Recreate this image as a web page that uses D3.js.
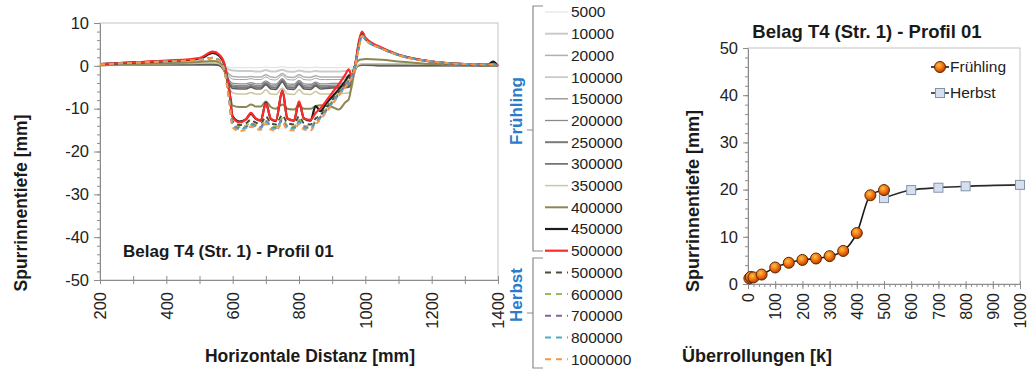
<!DOCTYPE html>
<html>
<head>
<meta charset="utf-8">
<script src="https://cdn.jsdelivr.net/npm/d3@7"></script>
<style>
  body { margin: 0; background: #fff; }
  svg { font-family: "Liberation Sans", Arial, sans-serif; }
  .axis path, .axis line { stroke: #8c8c8c; }
  .axis text { fill: #222; font-size: 16px; }
</style>
</head>
<body>
<svg id="chart" width="1029" height="374"></svg>
<script>
// --- Querprofil (linkes Diagramm) ---
const distanz = [200, 300, 400, 500, 540, 560, 575, 590, 600, 620, 640, 655, 670, 685, 700, 715, 730, 750, 765, 785, 800, 815, 835, 850, 865, 880, 900, 920, 940, 950, 960, 970, 980, 990, 1000, 1050, 1100, 1200, 1300, 1370, 1385, 1400];

const f5000 = [0.2,0.2,0.2,0.2,0.2,0.1,-0.1,-0.3,-0.4,-0.4, -0.4,-0.4,-0.4,-0.4,-0.3,-0.4,-0.4,-0.2,-0.4,-0.4, -0.3,-0.4,-0.4,-0.3,-0.4,-0.4,-0.4,-0.4,-0.4,-0.4, -0.3,-0.1,0.1,0.1,0.1,0.1,0.1,0.1,0.0,0.0,0.0,0.0];
const f10000 = [0.2,0.3,0.3,0.3,0.3,0.1,-0.3,-0.9,-1.1,-1.2, -1.2,-1.2,-1.3,-1.3,-1.0,-1.3,-1.3,-0.9,-1.3,-1.4, -1.1,-1.3,-1.4,-1.2,-1.3,-1.3,-1.3,-1.3,-1.2,-1.2, -1.0,-0.3,0.1,0.2,0.2,0.1,0.1,0.1,0.1,0.0,0.0,0.0];
const f20000 = [0.2,0.3,0.3,0.3,0.3,0.1,-0.6,-2.0,-2.5,-2.6, -2.6,-2.5,-2.6,-2.6,-2.1,-2.6,-2.7,-1.8,-2.6,-2.7, -2.1,-2.6,-2.7,-2.3,-2.6,-2.6,-2.6,-2.6,-2.6,-2.5, -2.0,-0.4,0.1,0.2,0.2,0.1,0.1,0.1,0.1,0.0,0.0,0.0];
const f100000 = [0.2,0.3,0.3,0.3,0.3,0.1,-0.8,-2.6,-3.1,-3.2, -3.2,-3.0,-3.2,-3.2,-2.6,-3.2,-3.3,-2.2,-3.2,-3.3, -2.6,-3.2,-3.3,-2.9,-3.2,-3.2,-3.2,-3.2,-3.1,-3.1, -2.4,-0.5,0.1,0.2,0.2,0.1,0.1,0.1,0.1,0.0,0.0,0.0];
const f150000 = [0.2,0.3,0.3,0.3,0.3,0.1,-1.0,-3.4,-4.1,-4.2, -4.2,-3.9,-4.2,-4.2,-3.5,-4.2,-4.3,-3.0,-4.2,-4.3, -3.4,-4.2,-4.3,-3.8,-4.2,-4.2,-4.1,-4.1,-4.0,-4.0, -3.0,-0.6,0.1,0.2,0.2,0.1,0.1,0.1,0.1,0.0,0.0,0.0];
const f200000 = [0.2,0.3,0.3,0.3,0.3,0.1,-1.1,-3.8,-4.5,-4.6, -4.6,-4.3,-4.6,-4.6,-3.8,-4.6,-4.7,-3.2,-4.6,-4.7, -3.7,-4.6,-4.7,-4.1,-4.6,-4.6,-4.5,-4.5,-4.4,-4.3, -3.3,-0.7,0.1,0.2,0.2,0.1,0.1,0.1,0.1,0.0,0.0,0.0];
const f250000 = [0.2,0.3,0.3,0.3,0.3,0.1,-1.2,-4.1,-4.9,-5.0, -5.0,-4.7,-5.0,-5.0,-4.1,-5.0,-5.1,-3.5,-5.0,-5.1, -4.0,-5.0,-5.1,-4.4,-5.0,-5.0,-4.9,-4.9,-4.8,-4.7, -3.5,-0.8,0.1,0.2,0.2,0.1,0.1,0.1,0.1,0.0,0.0,0.0];
const f300000 = [0.2,0.3,0.3,0.3,0.3,0.1,-1.3,-4.4,-5.3,-5.4, -5.4,-5.0,-5.4,-5.4,-4.4,-5.4,-5.5,-3.8,-5.4,-5.5, -4.3,-5.4,-5.5,-4.7,-5.4,-5.3,-5.2,-5.2,-5.1,-5.0, -3.8,-0.9,0.1,0.2,0.2,0.1,0.1,0.1,0.1,0.0,0.0,0.0];
const f350000 = [0.1,0.3,0.5,0.6,0.7,0.5,-1.2,-5.0,-6.3,-6.6, -6.6,-6.2,-6.6,-6.6,-5.6,-6.6,-6.7,-5.2,-6.6,-6.7, -5.6,-6.6,-6.7,-6.0,-6.6,-6.6,-6.5,-6.5,-6.4,-6.3, -5.0,-0.8,0.3,0.5,0.5,0.5,0.5,0.4,0.2,0.1,0.1,0.0];
const f400000 = [0.1,0.4,0.6,0.9,1.1,0.8,-0.8,-6.0,-9.3,-9.6, -9.6,-9.0,-9.5,-9.5,-8.3,-9.6,-10.0,-9.0,-10.0,-10.2, -9.4,-10.0,-10.0,-9.4,-9.2,-9.3,-9.6,-10.2,-8.5,-7.8, -4.0,0.2,1.3,1.5,1.6,1.4,1.0,0.4,0.2,0.1,0.1,0.0];
const f450000 = [0.4,0.8,1.1,1.6,3.0,2.3,0.3,-6.0,-11.8,-13.0, -12.5,-11.2,-12.4,-12.8,-8.6,-12.4,-12.9,-5.8,-12.3,-12.8, -8.5,-12.3,-12.8,-9.4,-10.6,-9.0,-7.2,-5.5,-3.5,-2.3, -2.0,0.5,5.0,7.8,6.3,4.1,2.6,1.0,0.4,0.3,1.0,0.0];
const f500000 = [0.4,0.8,1.2,1.8,3.3,2.6,0.5,-6.0,-12.0,-13.2, -12.5,-11.0,-12.3,-12.7,-8.8,-12.3,-12.8,-5.7,-12.3,-12.7, -8.3,-12.3,-12.6,-11.0,-9.9,-8.4,-6.3,-4.3,-2.0,-0.8, -2.8,0.5,5.5,8.0,6.6,4.2,2.6,1.0,0.4,0.3,0.4,0.1];

const h500000 = [0.3,0.7,1.0,1.4,1.9,1.3,-0.8,-7.5,-13.0,-13.8, -13.4,-12.6,-13.3,-13.5,-11.8,-13.4,-13.7,-11.5,-13.4,-13.7, -11.8,-13.4,-13.7,-12.3,-11.5,-10.0,-8.0,-6.0,-4.0,-3.0, -2.0,0.5,4.5,7.3,6.2,4.0,2.5,1.0,0.4,0.3,0.3,0.1];
const h600000 = [0.3,0.7,1.0,1.4,1.8,1.2,-0.9,-7.8,-13.5,-14.3, -14.0,-13.3,-13.8,-14.0,-12.6,-14.0,-14.2,-12.3,-14.0,-14.2, -12.6,-14.0,-14.2,-12.8,-11.8,-10.3,-8.3,-6.3,-4.3,-3.2, -2.2,0.3,4.3,7.2,6.2,4.0,2.5,1.0,0.4,0.3,0.3,0.1];
const h700000 = [0.3,0.7,1.0,1.4,1.8,1.2,-1.0,-8.0,-13.8,-14.6, -14.3,-13.6,-14.1,-14.3,-12.9,-14.3,-14.5,-12.7,-14.3,-14.5, -13.0,-14.3,-14.5,-13.1,-12.0,-10.6,-8.6,-6.6,-4.6,-3.5, -2.4,0.2,4.2,7.1,6.2,4.0,2.5,1.0,0.4,0.3,0.3,0.1];
const h800000 = [0.3,0.7,1.0,1.4,1.8,1.2,-1.0,-8.2,-14.0,-14.8, -14.5,-13.8,-14.3,-14.5,-13.1,-14.5,-14.7,-12.9,-14.5,-14.7, -13.2,-14.5,-14.7,-13.3,-12.2,-10.8,-8.8,-6.8,-4.8,-3.7, -2.5,0.2,4.1,7.0,6.1,4.0,2.5,1.0,0.4,0.3,0.3,0.1];
const h1000000 = [0.3,0.7,1.0,1.4,1.8,1.2,-1.1,-8.5,-14.4,-15.2, -14.9,-14.2,-14.7,-14.9,-13.5,-14.9,-15.1,-13.4,-14.9,-15.1, -13.6,-14.9,-15.1,-13.7,-12.5,-11.0,-9.0,-7.0,-5.0,-3.9, -2.6,0.1,4.0,7.0,6.1,4.0,2.5,1.0,0.4,0.3,0.3,0.1];

const fruehlingLabels = ["5000","10000","20000","100000","150000","200000","250000","300000","350000","400000","450000","500000"];
const herbstLabels = ["500000","600000","700000","800000","1000000"];

// --- Spurrinnentiefe vs. Überrollungen (rechtes Diagramm) ---
const ueberrFr = [5, 10, 20, 50, 100, 150, 200, 250, 300, 350, 400, 450, 500];
const tiefeFr = [1.2, 1.5, 1.4, 2.0, 3.5, 4.5, 5.1, 5.4, 5.9, 7.0, 10.8, 18.8, 19.9];
const ueberrHe = [500, 600, 700, 800, 1000];
const tiefeHe = [18.2, 19.9, 20.4, 20.7, 21.0];

const titel = "Belag T4 (Str. 1) - Profil 01";

// styles
const frStyle = [
  {c: "#e4e4e4", w: 1.2}, {c: "#cbcbcb", w: 2}, {c: "#b0b0b0", w: 1.5}, {c: "#a2a2a2", w: 1},
  {c: "#8e8e8e", w: 1.3}, {c: "#8a8a8a", w: 1.3}, {c: "#7a7a7a", w: 2}, {c: "#5c5c5c", w: 1.5},
  {c: "#cbc7a2", w: 1.5}, {c: "#8d8752", w: 2}, {c: "#1c1c1c", w: 2.2}, {c: "#ff2a2a", w: 2.2}
];
const heStyle = [
  {c: "#4d4d3a"}, {c: "#9bbb59"}, {c: "#8064a2"}, {c: "#4bacc6"}, {c: "#f79646"}
];

const frSeries = [f5000, f10000, f20000, f100000, f150000, f200000, f250000, f300000, f350000, f400000, f450000, f500000];
const heSeries = [h500000, h600000, h700000, h800000, h1000000];

const svg = d3.select("#chart");
svg.append("rect").attr("width", 1029).attr("height", 374).attr("fill", "#fff");

const defs = svg.append("defs");
const grad = defs.append("radialGradient").attr("id", "orb").attr("cx", "40%").attr("cy", "35%").attr("r", "65%");
grad.append("stop").attr("offset", "0%").attr("stop-color", "#ffc04a");
grad.append("stop").attr("offset", "55%").attr("stop-color", "#f07410");
grad.append("stop").attr("offset", "100%").attr("stop-color", "#b83c00");

// ================= left chart =================
const L = {left: 100, right: 498, top: 23, bottom: 280};
const xL = d3.scaleLinear().domain([200, 1400]).range([L.left, L.right]);
const yL = d3.scaleLinear().domain([-50, 10]).range([L.bottom, L.top]);

svg.append("rect")
  .attr("x", L.left).attr("y", L.top)
  .attr("width", L.right - L.left).attr("height", L.bottom - L.top)
  .attr("fill", "none").attr("stroke", "#c4c4c4");

// minor y ticks
svg.append("g").attr("class", "axis")
  .attr("transform", `translate(${L.left},0)`)
  .call(d3.axisLeft(yL).tickValues(d3.range(-50, 10.1, 2)).tickSize(3).tickFormat(""))
  .call(g => g.select(".domain").remove());

svg.append("g").attr("class", "axis")
  .attr("transform", `translate(${L.left},0)`)
  .call(d3.axisLeft(yL).tickValues(d3.range(-50, 10.1, 10)).tickSize(6).tickSizeOuter(0).tickPadding(5).tickFormat(d => String(d)))
  .call(g => g.selectAll("text").style("font-size", "16.5px"));

svg.append("g").attr("class", "axis")
  .attr("transform", `translate(0,${L.bottom})`)
  .call(d3.axisBottom(xL).tickValues(d3.range(200, 1401, 100)).tickSizeOuter(0)
    .tickFormat(d => d % 200 === 0 ? String(d) : ""))
  .call(g => g.selectAll(".tick line").attr("y1", -4).attr("y2", 4))
  .call(g => g.selectAll("text")
    .attr("transform", "rotate(-90)")
    .attr("text-anchor", "end")
    .attr("x", -12).attr("y", 0).attr("dy", "0.35em")
    .style("font-size", "16.5px"));

const lineL = d3.line()
  .x((d, i) => xL(distanz[i]))
  .y(d => yL(d))
  .curve(d3.curveMonotoneX);

const plotL = svg.append("g");
frSeries.forEach((s, k) => {
  plotL.append("path")
    .datum(s)
    .attr("fill", "none")
    .attr("stroke", frStyle[k].c)
    .attr("stroke-width", frStyle[k].w)
    .attr("stroke-linejoin", "round")
    .attr("d", lineL);
});
heSeries.forEach((s, k) => {
  plotL.append("path")
    .datum(s)
    .attr("fill", "none")
    .attr("stroke", heStyle[k].c)
    .attr("stroke-width", 2)
    .attr("stroke-dasharray", "5,4")
    .attr("d", lineL);
});

svg.append("text")
  .attr("x", 123).attr("y", 257)
  .attr("font-size", "17px").attr("font-weight", "bold").attr("fill", "#1a1a1a")
  .text(titel);

svg.append("text")
  .attr("transform", "translate(21,203) rotate(-90)")
  .attr("text-anchor", "middle").attr("dy", "0.35em")
  .attr("font-size", "17.5px").attr("font-weight", "bold").attr("fill", "#1a1a1a")
  .text("Spurrinnentiefe [mm]");

svg.append("text")
  .attr("x", 310).attr("y", 362)
  .attr("text-anchor", "middle")
  .attr("font-size", "17.5px").attr("font-weight", "bold").attr("fill", "#1a1a1a")
  .text("Horizontale Distanz [mm]");

// ================= legend (middle) =================
const rowY = i => 12 + i * 21.7;
const leg = svg.append("g");
const allLabels = fruehlingLabels.concat(herbstLabels);
allLabels.forEach((lab, i) => {
  const isHe = i >= fruehlingLabels.length;
  const st = isHe ? heStyle[i - fruehlingLabels.length] : frStyle[i];
  leg.append("line")
    .attr("x1", 545).attr("x2", 568).attr("y1", rowY(i)).attr("y2", rowY(i))
    .attr("stroke", st.c)
    .attr("stroke-width", isHe ? 2 : st.w)
    .attr("stroke-dasharray", isHe ? "6,5" : null);
  leg.append("text")
    .attr("x", 571).attr("y", rowY(i)).attr("dy", "0.35em")
    .attr("font-size", "15.5px").attr("fill", "#222")
    .text(lab);
});
leg.append("path")
  .attr("d", "M543,6 H533 V251 H543 M533,130 H527 M543,258 H533 V368 H543 M533,313 H527")
  .attr("fill", "none").attr("stroke", "#8a8a8a").attr("stroke-width", 1.2);
leg.append("text")
  .attr("transform", "translate(516,111) rotate(-90)")
  .attr("text-anchor", "middle").attr("dy", "0.35em")
  .attr("font-size", "17px").attr("font-weight", "bold").attr("fill", "#2b7ccc")
  .text("Frühling");
leg.append("text")
  .attr("transform", "translate(516,295) rotate(-90)")
  .attr("text-anchor", "middle").attr("dy", "0.35em")
  .attr("font-size", "17px").attr("font-weight", "bold").attr("fill", "#2b7ccc")
  .text("Herbst");

// ================= right chart =================
const R = {left: 748, right: 1020, top: 48, bottom: 284};
const xR = d3.scaleLinear().domain([0, 1000]).range([R.left, R.right]);
const yR = d3.scaleLinear().domain([0, 50]).range([R.bottom, R.top]);

svg.append("rect")
  .attr("x", R.left).attr("y", R.top)
  .attr("width", R.right - R.left).attr("height", R.bottom - R.top)
  .attr("fill", "none").attr("stroke", "#c4c4c4");

svg.append("g").attr("class", "axis")
  .attr("transform", `translate(${R.left},0)`)
  .call(d3.axisLeft(yR).tickValues(d3.range(0, 50.1, 2)).tickSize(3).tickFormat(""))
  .call(g => g.select(".domain").remove());
svg.append("g").attr("class", "axis")
  .attr("transform", `translate(${R.left},0)`)
  .call(d3.axisLeft(yR).tickValues(d3.range(0, 50.1, 10)).tickSize(5).tickSizeOuter(0).tickPadding(5).tickFormat(d => String(d)))
  .call(g => g.selectAll("text").style("font-size", "16.5px"));

svg.append("g").attr("class", "axis")
  .attr("transform", `translate(0,${R.bottom})`)
  .call(d3.axisBottom(xR).tickValues(d3.range(0, 1001, 20)).tickSize(3).tickFormat(""))
  .call(g => g.select(".domain").remove());
svg.append("g").attr("class", "axis")
  .attr("transform", `translate(0,${R.bottom})`)
  .call(d3.axisBottom(xR).tickValues(d3.range(0, 1001, 100)).tickSizeOuter(0).tickFormat(d => String(d)))
  .call(g => g.selectAll(".tick line").attr("y1", -3).attr("y2", 5))
  .call(g => g.selectAll("text")
    .attr("transform", "rotate(-90)")
    .attr("text-anchor", "end")
    .attr("x", -9).attr("y", 0).attr("dy", "0.35em")
    .style("font-size", "16px"));

const lineR = d3.line()
  .x(d => xR(d[0]))
  .y(d => yR(d[1]))
  .curve(d3.curveMonotoneX);

const frPts = ueberrFr.map((x, i) => [x, tiefeFr[i]]);
const hePts = ueberrHe.map((x, i) => [x, tiefeHe[i]]);

svg.append("path").datum(frPts)
  .attr("fill", "none").attr("stroke", "#1a1a1a").attr("stroke-width", 1.6).attr("d", lineR);
svg.append("path").datum(hePts)
  .attr("fill", "none").attr("stroke", "#2a2a2a").attr("stroke-width", 1.6).attr("d", lineR);

svg.append("g").selectAll("rect").data(hePts).join("rect")
  .attr("x", d => xR(d[0]) - 4.5).attr("y", d => yR(d[1]) - 4.5)
  .attr("width", 9).attr("height", 9)
  .attr("fill", "#d6dff0").attr("stroke", "#8593a8").attr("stroke-width", 1);
svg.append("g").selectAll("circle").data(frPts).join("circle")
  .attr("cx", d => xR(d[0])).attr("cy", d => yR(d[1]))
  .attr("r", 5.5)
  .attr("fill", "url(#orb)").attr("stroke", "#5e2800").attr("stroke-width", 1);

// right legend
const lg = svg.append("g");
lg.append("line").attr("x1", 931).attr("x2", 949).attr("y1", 67).attr("y2", 67)
  .attr("stroke", "#1a1a1a").attr("stroke-width", 1.6);
lg.append("circle").attr("cx", 940).attr("cy", 67).attr("r", 5.5)
  .attr("fill", "url(#orb)").attr("stroke", "#5e2800");
lg.append("text").attr("x", 950).attr("y", 67).attr("dy", "0.35em")
  .attr("font-size", "15.5px").attr("fill", "#222").text("Frühling");
lg.append("line").attr("x1", 931).attr("x2", 949).attr("y1", 93).attr("y2", 93)
  .attr("stroke", "#2a2a2a").attr("stroke-width", 1.6);
lg.append("rect").attr("x", 935.5).attr("y", 88.5).attr("width", 9).attr("height", 9)
  .attr("fill", "#d6dff0").attr("stroke", "#8593a8");
lg.append("text").attr("x", 950).attr("y", 93).attr("dy", "0.35em")
  .attr("font-size", "15.5px").attr("fill", "#222").text("Herbst");

svg.append("text")
  .attr("x", 867).attr("y", 38)
  .attr("text-anchor", "middle")
  .attr("font-size", "18.5px").attr("font-weight", "bold").attr("fill", "#1a1a1a")
  .text(titel);

svg.append("text")
  .attr("transform", "translate(693,201) rotate(-90)")
  .attr("text-anchor", "middle").attr("dy", "0.35em")
  .attr("font-size", "18px").attr("font-weight", "bold").attr("fill", "#1a1a1a")
  .text("Spurrinnentiefe [mm]");

svg.append("text")
  .attr("x", 682).attr("y", 362)
  .attr("font-size", "18px").attr("font-weight", "bold").attr("fill", "#1a1a1a")
  .text("Überrollungen [k]");
</script>
</body>
</html>
